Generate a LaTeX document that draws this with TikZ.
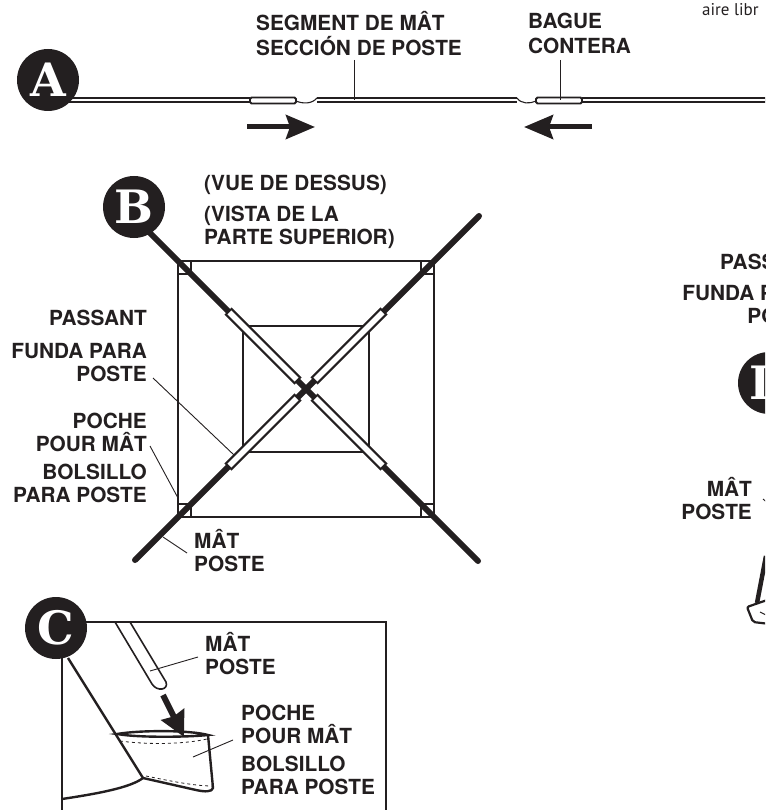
\documentclass[tikz,border=0pt]{standalone}
\usepackage{fontspec}
\setmainfont{TeX Gyre Heros}
\newfontfamily\badgefont{DejaVu Serif}
\newfontfamily\notefont{PT Sans}
\usepackage{tikz}
\usetikzlibrary{arrows.meta,positioning,calc}
\definecolor{ink}{HTML}{231F20}

\begin{document}
\begin{tikzpicture}[x=1pt, y=-1pt, ink, line cap=butt]
    \tikzset{
      badge/.style={circle,fill=ink,text=white,minimum size=62pt,inner sep=0pt,font=\badgefont\bfseries\fontsize{46}{46}\selectfont},
      callout/.style={font=\bfseries\fontsize{20.8}{23}\selectfont,text=ink,inner sep=0pt},
      calloutL/.style={callout,align=left,anchor=west},
      calloutR/.style={callout,align=right,anchor=east},
      calloutW/.style={calloutL,font=\bfseries\fontsize{20.8}{25}\selectfont},
      leader/.style={line width=0.9pt},
      frame/.style={line width=2.4pt},
      mast/.style={line width=6pt,line cap=round},
      sleeve/.style={line width=10pt,postaction={draw,white,line width=5.5pt,shorten >=2pt,shorten <=2pt}},
      rod/.style={double=white,double distance=2.2pt,line width=1.7pt},
      rodthin/.style={double=white,double distance=2.6pt,line width=1.4pt},
      collar/.style={draw,fill=white,line width=1.9pt,rounded corners=1.5pt},
      push/.style={line width=5pt,-{Stealth[length=29pt,width=24pt,inset=4pt]}},
    }
    \useasboundingbox (0,0) rectangle (765,810);
    \clip (0,0) rectangle (765,810);

    % A
    \coordinate (a1) at (50,100);
    \coordinate (a2) at (250,100);
    \coordinate (a3) at (296,101);
    \coordinate (a4) at (317,100);
    \coordinate (a5) at (517,100);
    \coordinate (a6) at (536,101);
    \coordinate (a7) at (582,100);
    \coordinate (a8) at (770,100);
    \draw[rod] (a1) -- (a2);
    \draw[rod] (a7) -- (a8);
    \draw[rodthin] (a4) -- (a5);
    \draw[line width=1.1pt] (a3) .. controls (303,104) and (312,104) .. (317,98);
    \draw[line width=1.1pt] (517,98) .. controls (521,104) and (530,104) .. (a6);
    \draw[collar] (250,97.5) rectangle (296,103.5);
    \draw[collar] (536,97.5) rectangle (582,103.5);
    \node[badge] (badgeA) at (48,80) {A};
    \node[calloutW] (segment) at (256,33.5) {SEGMENT DE MÂT\\SECCIÓN DE POSTE};
    \node[calloutW] (bague) at (528,33) {BAGUE\\CONTERA};
    \node[anchor=west,inner sep=0pt,font=\notefont\fontsize{17}{17}\selectfont] (aire) at (702,10) {aire libr};
    \coordinate (segtop) at (354,60);
    \coordinate (segend) at (354,100);
    \coordinate (bagtop) at (560,60);
    \coordinate (bagend) at (560,100);
    \draw[leader] (segtop) -- (segend);
    \draw[leader] (bagtop) -- (bagend);
    \coordinate (pushAs) at (247,127);
    \coordinate (pushAe) at (315,127);
    \coordinate (pushBs) at (592,127);
    \coordinate (pushBe) at (524,127);
    \draw[push] (pushAs) -- (pushAe);
    \draw[push] (pushBs) -- (pushBe);

    % B
    \draw[frame] (178,261) rectangle (434,517);
    \draw[frame] (243,326) rectangle (369,452);
    \draw[frame] (178,261) rectangle (191,274);
    \draw[frame] (421,261) rectangle (434,274);
    \draw[frame] (178,504) rectangle (191,517);
    \draw[frame] (421,504) rectangle (434,517);
    \coordinate (hub) at (306,389);
    \coordinate (nw) at (134,217);
    \coordinate (ne) at (479,216);
    \coordinate (sw) at (135,560);
    \coordinate (se) at (478,561);
    \draw[mast] (nw) -- (hub);
    \draw[mast] (ne) -- (hub);
    \draw[mast] (sw) -- (hub);
    \draw[mast] (se) -- (hub);
    \coordinate (nwa) at (228,311);
    \coordinate (nwb) at (298,381);
    \coordinate (nea) at (384,311);
    \coordinate (neb) at (314,381);
    \coordinate (swa) at (228,467);
    \coordinate (swb) at (298,397);
    \coordinate (sea) at (384,467);
    \coordinate (seb) at (314,397);
    \draw[sleeve] (nwa) -- (nwb);
    \draw[sleeve] (nea) -- (neb);
    \draw[sleeve] (swa) -- (swb);
    \draw[sleeve] (sea) -- (seb);
    \node[badge] (badgeB) at (134,207) {B};
    \node[calloutL] (vue) at (204,185) {(VUE DE DESSUS)};
    \node[calloutL] (vista) at (204,227.5) {(VISTA DE LA\\PARTE SUPERIOR)};
    \node[calloutR] (passant) at (147,318) {PASSANT};
    \node[calloutR] (funda) at (147,363) {FUNDA PARA\\POSTE};
    \node[calloutR] (poche) at (147,432.5) {POCHE\\POUR MÂT};
    \node[calloutR] (bolsillo) at (147,483.5) {BOLSILLO\\PARA POSTE};
    \node[calloutL] (mat) at (194,551) {MÂT\\POSTE};
    \coordinate (fundaS) at (153,378);
    \coordinate (fundaE) at (234,455);
    \coordinate (pocheS) at (150,446);
    \coordinate (pocheE) at (178,498);
    \coordinate (matS) at (187,553);
    \coordinate (matE) at (163,537);
    \draw[leader] (fundaS) -- (fundaE);
    \draw[leader] (pocheS) -- (pocheE);
    \draw[leader] (matS) -- (matE);

    % C
    \draw[frame] (62,815) -- (62,622) -- (386,622) -- (386,815);
    \draw[frame] (68,658) -- (143,778);
    \draw[frame] (62,799) .. controls (95,794) and (130,788) .. (143,778);
    \draw[line width=1.6pt] (115,622) -- (152,684) .. controls (157,692) and (169,690) .. (166,682) -- (130,622);
    \coordinate (polS) at (198,657);
    \coordinate (polE) at (150,671);
    \draw[leader] (polS) -- (polE);
    \draw[line width=2.4pt,fill=white] (117,734) .. controls (140,730) and (190,730) .. (208,735) .. controls (190,737) and (140,738) .. cycle;
    \draw[frame] (208,735) -- (213,788) .. controls (212,792) and (205,792) .. (196,790) -- (143,778);
    \draw[line width=0.8pt,dashed] (120,741) .. controls (150,745) and (185,744) .. (207,739);
    \draw[line width=0.8pt,dashed] (146,776) .. controls (170,781) and (195,786) .. (212,786);
    \coordinate (arrS) at (163,695);
    \coordinate (arrE) at (184,737);
    \draw[line width=6pt,-{Stealth[length=25pt,width=25pt,inset=2pt]}] (arrS) -- (arrE);
    \coordinate (pckS) at (233,740);
    \coordinate (pckE) at (193,757);
    \draw[leader] (pckS) -- (pckE);
    \node[badge] (badgeC) at (56,628) {C};
    \node[calloutL] (matC) at (205,653.5) {MÂT\\POSTE};
    \node[calloutL] (pocheC) at (241,724) {POCHE\\POUR MÂT};
    \node[calloutL] (bolsilloC) at (241,775) {BOLSILLO\\PARA POSTE};

    % D
    \node[badge] (badgeD) at (769,383) {D};
    \node[calloutR] (passantD) at (818,262) {PASSANT};
    \node[calloutR] (fundaD) at (818,304.5) {FUNDA PARA\\POSTE};
    \node[calloutR] (matD) at (752,499) {MÂT\\POSTE};
    \coordinate (matDs) at (763,499);
    \coordinate (matDe) at (770,505);
    \draw[leader] (matDs) -- (matDe);
    \draw[line width=4.5pt] (766,556) -- (757,603);
    \draw[line width=2.2pt,rounded corners=2pt] (770,599) -- (747,607) -- (753,622) -- (770,624);
    \draw[line width=1pt] (760,612) -- (766,615);
\end{tikzpicture}
\end{document}
